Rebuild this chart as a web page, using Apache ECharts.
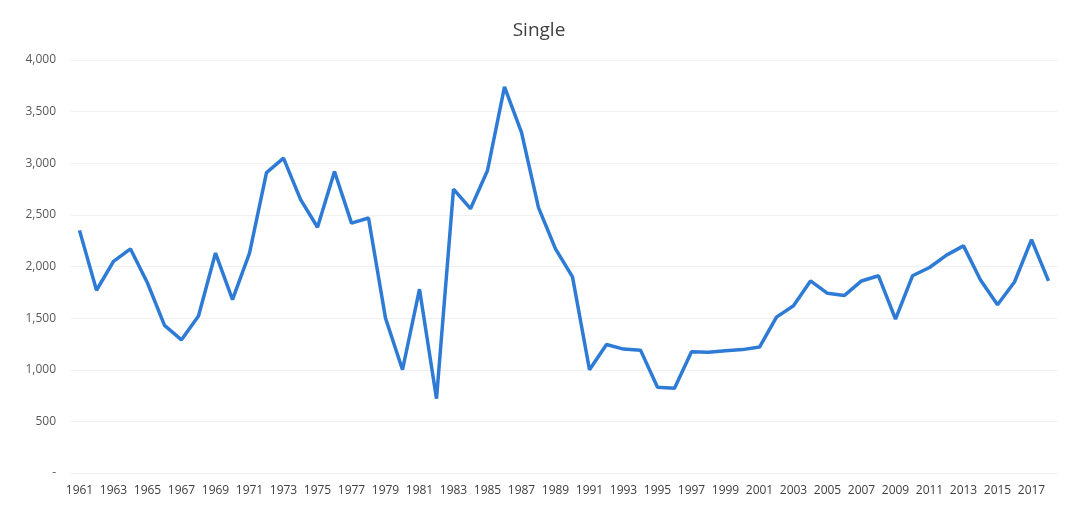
<!DOCTYPE html>
<html>
<head>
<meta charset="utf-8">
<script src="https://cdn.jsdelivr.net/npm/echarts@6/dist/echarts.min.js"></script>
<style>
    html, body { margin: 0; padding: 0; background: #fff; }
    #chart { width: 1078px; height: 507px; }
</style>
</head>
<body>
<div id="chart"></div>
<script>
var years = [];
for (var y = 1961; y <= 2018; y++) years.push(String(y));

var single = [
    2350, 1770, 2050, 2170, 1840, 1430, 1290, 1520, 2130, 1680,
    2130, 2910, 3050, 2650, 2380, 2920, 2420, 2470, 1500, 1000,
    1780, 720, 2750, 2560, 2930, 3740, 3300, 2570, 2170, 1900,
    1000, 1245, 1200, 1190, 830, 820, 1175, 1170, 1185, 1195,
    1220, 1510, 1620, 1860, 1740, 1720, 1860, 1910, 1490, 1910,
    1990, 2110, 2200, 1870, 1630, 1850, 2260, 1860
];

var chart = echarts.init(document.getElementById("chart"));
var option = {
    backgroundColor: "#fff",
    animation: false,
    title: {
        text: "Single",
        left: "center",
        top: 16,
        textStyle: {
            color: "#404040",
            fontSize: 19,
            fontWeight: 400,
            fontFamily: "Open Sans"
        }
    },
    grid: {
        left: 71,
        right: 21,
        top: 60,
        bottom: 34
    },
    xAxis: {
        type: "category",
        data: years,
        boundaryGap: true,
        axisLine: { show: true, lineStyle: { color: "#eeeeee" } },
        axisTick: { show: false },
        axisLabel: {
            interval: 1,
            color: "#404040",
            fontSize: 12,
            fontFamily: "Open Sans",
            margin: 12
        }
    },
    yAxis: {
        type: "value",
        min: 0,
        max: 4000,
        interval: 500,
        axisLine: { show: false },
        axisTick: { show: false },
        splitLine: { lineStyle: { color: "#f0f0f0" } },
        axisLabel: {
            color: "#595959",
            fontSize: 12,
            fontFamily: "Open Sans",
            margin: 15,
            formatter: function (v) {
                return v === 0 ? "-" : v.toLocaleString("en-US");
            }
        }
    },
    series: [
        {
            name: "Single",
            type: "line",
            data: single,
            showSymbol: false,
            lineStyle: { color: "#2e7bd6", width: 3.5 },
            itemStyle: { color: "#2e7bd6" }
        }
    ]
};
chart.setOption(option);
</script>
</body>
</html>
